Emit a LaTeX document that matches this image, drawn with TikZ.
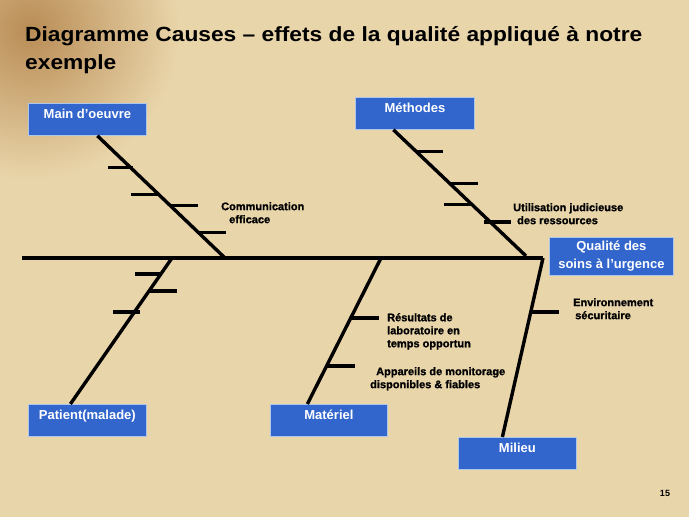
\documentclass[tikz,border=0pt]{standalone}
\usepackage{fontspec}
\setmainfont{Liberation Sans}
\newfontfamily\heavyfont{Liberation Sans Bold}[FakeBold=1.2]
\usetikzlibrary{calc}
\definecolor{bg}{RGB}{233,213,170}
\definecolor{bgdark}{RGB}{185,140,85}
\definecolor{boxblue}{RGB}{51,102,204}
\definecolor{boxline}{RGB}{175,198,235}
\begin{document}
\begin{tikzpicture}[x=1pt,y=-1pt,
  box/.style={fill=boxblue, draw=boxline, line width=0.8pt, minimum width=118pt,
    minimum height=32pt, inner sep=0pt, anchor=north west, text=white,
    font=\fontsize{13}{14}\selectfont\bfseries, text height=8pt, text depth=9pt},
  qbox/.style={fill=boxblue, draw=boxline, line width=0.8pt, minimum width=124pt,
    minimum height=38pt, inner sep=0pt, anchor=north west, text=white, align=center,
    font=\fontsize{13}{18}\selectfont\bfseries},
  bone/.style={line width=3.4pt, black},
  ticksty/.style={line width=3.4pt, black},
  lbl/.style={font=\fontsize{11}{13}\selectfont\heavyfont, align=left, inner sep=0pt,
    anchor=north west},
]
\useasboundingbox (0,0) rectangle (689,517);
\fill[bg] (0,0) rectangle (689,517);
\shade[inner color=bgdark, outer color=bg] (30,30) circle (150);

% title
\node[anchor=north west, inner sep=0pt, align=left, xscale=1.11, transform shape,
  font=\fontsize{20.5}{28}\selectfont\bfseries] (title) at (25,26)
  {Diagramme Causes – effets de la qualité appliqué à notre\\exemple};

% boxes
\node[box] (mo) at (28,103) {Main d’oeuvre};
\node[box, minimum width=119pt] (me) at (355,97) {Méthodes};
\node[qbox] (q) at (549,237) {Qualité des\\soins à l’urgence};
\node[box] (pa) at (28,404) {Patient(malade)};
\node[box, minimum width=117pt] (ma) at (270,404) {Matériel};
\node[box] (mi) at (458,437) {Milieu};

% spine
\coordinate (tail) at (22,258);
\coordinate (head) at (543,258);
\draw[bone] (tail) -- (head);

% bones
\coordinate (moA) at ($(mo.south)+(10,0)$);
\coordinate (moB) at (225,258);
\coordinate (meA) at ($(me.south)+(-21.5,0)$);
\coordinate (meB) at (526,256);
\coordinate (paA) at (172,258);
\coordinate (paB) at ($(pa.north)+(-17,0)$);
\coordinate (maA) at (381,258);
\coordinate (maB) at ($(ma.north)+(-21.5,0)$);
\coordinate (miB) at ($(mi.north)+(-15,0)$);

\draw[bone] (moA) -- (moB);
\draw[bone] (meA) -- (meB);
\draw[bone] (paA) -- (paB);
\draw[bone] (maA) -- (maB);
\draw[bone] (head) -- (miB);

% ticks
\foreach \f/\a/\b in {0.26/2/-25, 0.48/0/-28, 0.57/0/28, 0.79/0/28}
  \draw[ticksty] ($(moA)!\f!(moB)$) ++(\a,0) -- ++(\b,0);
\foreach \f/\a/\b in {0.173/0/27, 0.425/0/28, 0.59/0/-28, 0.732/-6/27}
  \draw[ticksty] ($(meA)!\f!(meB)$) ++(\a,0) -- ++(\b,0);
\foreach \f/\a/\b in {0.11/1/-27, 0.226/0/28, 0.37/6/-27}
  \draw[ticksty] ($(paA)!\f!(paB)$) ++(\a,0) -- ++(\b,0);
\foreach \f/\a/\b in {0.411/0/28, 0.74/0/28}
  \draw[ticksty] ($(maA)!\f!(maB)$) ++(\a,0) -- ++(\b,0);
\draw[ticksty] ($(head)!0.302!(miB)$) -- ++(28,0);

% labels
\node[lbl] (l1) at (221,202) {Communication\\\hspace*{8pt}efficace};
\node[lbl] (l2) at (513,203) {Utilisation judicieuse\\\hspace*{4pt}des ressources};
\node[lbl] (l3) at (387,313) {Résultats de\\laboratoire en\\temps opportun};
\node[lbl] (l4) at (370,367) {\hspace*{6pt}Appareils de monitorage\\disponibles \& fiables};
\node[lbl] (l5) at (573,298) {Environnement\\\hspace*{2pt}sécuritaire};

\node[font=\fontsize{9}{10}\selectfont\bfseries, inner sep=0pt] (pg) at (665,493) {15};
\end{tikzpicture}
\end{document}
